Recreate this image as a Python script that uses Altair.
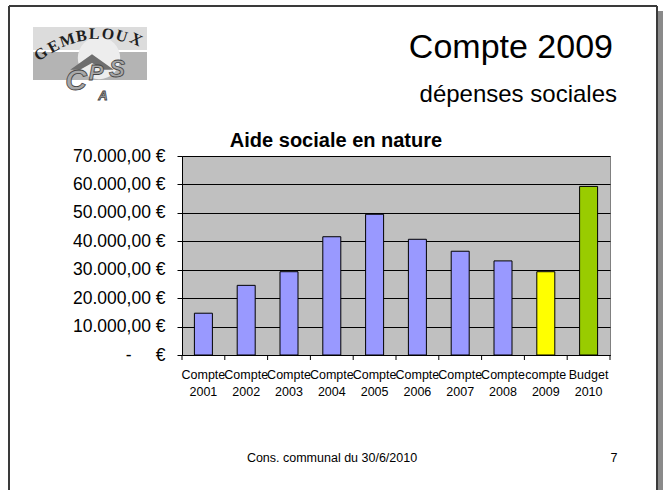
import altair as alt
import pandas as pd

# Aide sociale en nature, montants par exercice (EUR)
categories = ["Compte 2001", "Compte 2002", "Compte 2003", "Compte 2004", "Compte 2005",
              "Compte 2006", "Compte 2007", "Compte 2008", "compte 2009", "Budget 2010"]
amounts = [14700, 24500, 29300, 41600, 49500, 40700, 36500, 33100, 29300, 59300]
kinds = ["compte"] * 8 + ["compte 2009", "budget"]
y_ticks = [0, 10000, 20000, 30000, 40000, 50000, 60000, 70000]

FONT = "Liberation Sans"
W, H = 428, 199          # plot area
OX, OY = 182, 156        # plot area origin on the slide

df = pd.DataFrame({"cat": categories, "amount": amounts, "kind": kinds})
one = alt.Data(values=[{}])

y_label_expr = (
    "datum.value == 0 ? '-\u00a0\u00a0\u00a0\u00a0\u00a0€' : "
    "replace(replace(replace(format(datum.value, ',.2f'), ',', '#'), '.', ','), '#', '.') + ' €'"
)

x_enc = alt.X(
    "cat:N", sort=categories,
    scale=alt.Scale(paddingInner=0, paddingOuter=0),
    axis=alt.Axis(title=None, labelAngle=0, ticks=False, domainColor="black",
                  labelExpr="split(datum.value, ' ')", labelFontSize=12.5,
                  labelLineHeight=17, labelPadding=13, labelBaseline="top",
                  labelColor="black", labelFont=FONT),
)
y_enc = alt.Y(
    "amount:Q",
    scale=alt.Scale(domain=[0, 70000], nice=False),
    axis=alt.Axis(title=None, values=y_ticks, grid=True, gridColor="black",
                  gridWidth=1, gridOpacity=1, domainColor="black", tickColor="black",
                  tickSize=5, labelExpr=y_label_expr, labelFontSize=17.5,
                  labelPadding=12, labelColor="black", labelFont=FONT),
)

bars = alt.Chart(df).mark_bar(size=18, stroke="black", strokeWidth=1).encode(
    x=x_enc,
    y=y_enc,
    color=alt.Color("kind:N",
                    scale=alt.Scale(domain=["compte", "compte 2009", "budget"],
                                    range=["#9999FF", "#FFFF00", "#99CC00"]),
                    legend=None),
)

# category-boundary ticks under the x axis
cat_ticks = alt.Chart(df).mark_rule(color="black", strokeWidth=1).encode(
    x=alt.X("cat:N", sort=categories, bandPosition=0),
    y=alt.value(H), y2=alt.value(H + 5),
)
last_tick = alt.Chart(one).mark_rule(color="black", strokeWidth=1).encode(
    x=alt.value(W), y=alt.value(H), y2=alt.value(H + 5),
)


def rx(px):
    return px - OX


def ry(py):
    return py - OY


def text(s, x, y, size, align="center", weight="normal", color="black",
         font=FONT, angle=0, style="normal", stroke=None):
    kw = dict(align=align, baseline="alphabetic", fontSize=size, fontWeight=weight,
              color=color, font=font, angle=angle, fontStyle=style)
    if stroke:
        kw.update(stroke=stroke, strokeWidth=0.8)
    return alt.Chart(one).mark_text(**kw).encode(
        x=alt.value(rx(x)), y=alt.value(ry(y)), text=alt.value(s))


def rect(x1, y1, x2, y2, color):
    return alt.Chart(one).mark_rect(color=color).encode(
        x=alt.value(rx(x1)), x2=alt.value(rx(x2)),
        y=alt.value(ry(y1)), y2=alt.value(ry(y2)))


def line(x1, y1, x2, y2, color="#3a3a3a", width=2):
    return alt.Chart(one).mark_rule(color=color, strokeWidth=width).encode(
        x=alt.value(rx(x1)), x2=alt.value(rx(x2)),
        y=alt.value(ry(y1)), y2=alt.value(ry(y2)))


# slide frame with its shadow
frame = [
    rect(658, 11, 663, 490, "#8a8a8a"),
    line(9, 6, 657, 6),
    line(9, 6, 9, 490),
    line(657, 6, 657, 490),
]

# CPAS Gembloux logo
logo = [
    rect(33, 27, 147, 50, "#DCDCDC"),
    rect(33, 52, 147, 80, "#B4B4B4"),
    alt.Chart(one).mark_point(shape="circle", filled=True, color="#EDEDED",
                              opacity=1, size=1800).encode(
        x=alt.value(rx(99)), y=alt.value(ry(58))),
    alt.Chart(one).mark_point(
        shape="M -1 0.35 L 0 -0.35 L 1 0.35 L 0.55 0.35 L 0 0.05 L -0.55 0.35 Z",
        filled=True, color="#6E6E6E", opacity=1, size=1900).encode(
        x=alt.value(rx(92)), y=alt.value(ry(62))),
    text("C", 76, 90, 30, color="#A8A8A8", style="italic", weight="bold",
         stroke="#444444"),
    text("P", 96, 80, 22, color="#A8A8A8", style="italic", weight="bold",
         stroke="#444444"),
    text("S", 117, 77, 24, color="#A8A8A8", style="italic", weight="bold",
         stroke="#444444"),
    text("A", 103, 100, 13, color="#A8A8A8", style="italic", weight="bold",
         stroke="#444444"),
]
gembloux = ["G", "E", "M", "B", "L", "O", "U", "X"]
gx = [44, 56, 69, 82, 94, 107, 120, 134]
gy = [58, 51, 45, 41, 39, 39, 41, 44]
ga = [-38, -28, -18, -8, 2, 10, 18, 26]
for ch, x, y, a in zip(gembloux, gx, gy, ga):
    logo.append(text(ch, x, y, 16, weight="bold", color="#1e1e1e",
                     font="Liberation Serif", angle=a % 360))

titles = [
    text("Compte 2009", 613, 58, 34, align="right"),
    text("dépenses sociales", 617, 102, 24, align="right"),
    text("Aide sociale en nature", 336, 147, 20, weight="bold"),
    text("Cons. communal du 30/6/2010", 332, 462, 12.5),
    text("7", 614, 462, 12.5),
]

chart = alt.layer(
    *frame, *logo, *titles, bars, cat_ticks, last_tick
).properties(
    width=W, height=H,
    autosize=alt.AutoSizeParams(type="none"),
    padding={"left": OX, "top": OY, "right": 666 - OX - W, "bottom": 490 - OY - H},
    background="white",
).configure_view(
    fill="#C0C0C0", stroke="#808080", strokeWidth=1,
).configure_axis(
    labelFont=FONT,
)

chart.save("out.html", embed_options={"renderer": "svg", "actions": False})
